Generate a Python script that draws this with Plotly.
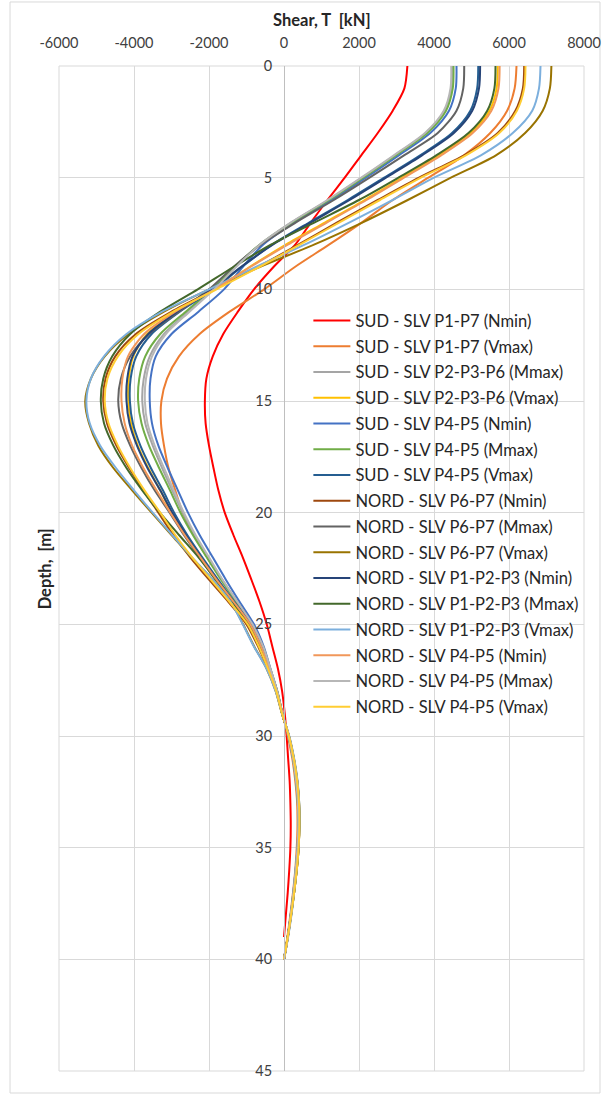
import plotly.graph_objects as go

depth = list(range(0, 41))
depth_red = list(range(0, 40))

names = [
    "SUD - SLV P1-P7 (Nmin)",
    "SUD - SLV P1-P7 (Vmax)",
    "SUD - SLV P2-P3-P6 (Mmax)",
    "SUD - SLV P2-P3-P6 (Vmax)",
    "SUD - SLV P4-P5 (Nmin)",
    "SUD - SLV P4-P5 (Mmax)",
    "SUD - SLV P4-P5 (Vmax)",
    "NORD - SLV P6-P7 (Nmin)",
    "NORD - SLV P6-P7 (Mmax)",
    "NORD - SLV P6-P7 (Vmax)",
    "NORD - SLV P1-P2-P3 (Nmin)",
    "NORD - SLV P1-P2-P3 (Mmax)",
    "NORD - SLV P1-P2-P3 (Vmax)",
    "NORD - SLV P4-P5 (Nmin)",
    "NORD - SLV P4-P5 (Mmax)",
    "NORD - SLV P4-P5 (Vmax)",
]

colors = ["#FF0000", "#ED7D31", "#A5A5A5", "#FFC000", "#4472C4", "#70AD47",
          "#255E91", "#9E480E", "#636363", "#997300", "#264478", "#43682B",
          "#7CAFDD", "#F1975A", "#B7B7B7", "#FFCD33"]

sud_p1p7_nmin = [3290, 3210, 2900, 2500, 2060, 1620, 1160, 720, 300, -280, -800, -1230, -1620, -1900, -2070, -2110, -2090, -2000, -1880, -1750, -1580, -1350, -1100, -870, -650, -460, -310, -160, -50, 20, 70, 110, 150, 170, 180, 170, 140, 100, 50, 0]
sud_p1p7_vmax = [6200, 6150, 5950, 5500, 4800, 3850, 2900, 2080, 1200, 290, -530, -1450, -2250, -2800, -3120, -3270, -3280, -3200, -3080, -2900, -2700, -2400, -2050, -1650, -1250, -850, -600, -380, -180, -40, 100, 220, 300, 350, 360, 340, 300, 240, 170, 90, 0]
sud_p2p3p6_mmax = [4480, 4460, 4280, 3780, 2950, 2080, 1180, 200, -650, -1300, -1900, -2560, -3200, -3580, -3740, -3780, -3700, -3500, -3250, -2980, -2700, -2380, -2020, -1650, -1250, -850, -560, -360, -180, -40, 120, 240, 320, 370, 380, 360, 310, 250, 180, 100, 0]
sud_p2p3p6_vmax = [5700, 5670, 5480, 4980, 4140, 3150, 2150, 1100, 50, -920, -1850, -2850, -3650, -4020, -4140, -4150, -4080, -3900, -3620, -3300, -3000, -2640, -2250, -1820, -1350, -900, -620, -400, -200, -50, 130, 260, 350, 400, 410, 390, 340, 270, 190, 100, 0]
sud_p4p5_nmin = [4600, 4580, 4400, 3900, 3060, 2180, 1270, 280, -560, -1100, -1600, -2280, -3000, -3420, -3560, -3580, -3520, -3350, -3100, -2830, -2560, -2250, -1900, -1550, -1180, -800, -540, -360, -180, -40, 120, 240, 320, 370, 380, 360, 310, 250, 180, 100, 0]
sud_p4p5_mmax = [4520, 4500, 4320, 3820, 2980, 2110, 1200, 220, -650, -1320, -1930, -2620, -3300, -3700, -3860, -3890, -3800, -3600, -3330, -3040, -2760, -2430, -2060, -1680, -1270, -860, -570, -370, -180, -40, 120, 240, 320, 370, 385, 365, 315, 255, 180, 100, 0]
sud_p4p5_vmax = [5180, 5150, 4970, 4480, 3630, 2670, 1700, 680, -320, -1130, -1880, -2780, -3530, -3940, -4090, -4110, -4030, -3830, -3550, -3230, -2930, -2580, -2180, -1760, -1320, -880, -600, -390, -190, -45, 125, 250, 335, 385, 395, 375, 325, 260, 185, 100, 0]
nord_p6p7_nmin = [6405, 6370, 6170, 5700, 4800, 3600, 2500, 1420, 380, -700, -1850, -3000, -3950, -4500, -4760, -4820, -4720, -4470, -4130, -3750, -3350, -2950, -2500, -2000, -1480, -1000, -690, -430, -210, -50, 130, 260, 350, 400, 410, 390, 340, 270, 190, 100, 0]
nord_p6p7_mmax = [4805, 4780, 4600, 4100, 3200, 2280, 1330, 320, -620, -1350, -2000, -2800, -3600, -4100, -4350, -4420, -4330, -4100, -3800, -3450, -3050, -2670, -2250, -1820, -1350, -900, -600, -390, -190, -45, 125, 250, 335, 385, 395, 375, 325, 260, 185, 100, 0]
nord_p6p7_vmax = [7130, 7090, 6900, 6430, 5650, 4450, 3300, 2100, 800, -650, -2000, -3200, -4150, -4780, -5150, -5300, -5200, -4950, -4550, -4050, -3530, -3000, -2470, -1900, -1420, -1090, -790, -460, -220, -55, 135, 265, 355, 405, 410, 385, 335, 270, 195, 105, 0]
nord_p1p2p3_nmin = [5230, 5200, 5020, 4530, 3680, 2720, 1750, 720, -300, -1150, -1920, -2850, -3620, -4040, -4180, -4200, -4120, -3920, -3640, -3300, -2980, -2620, -2220, -1790, -1340, -900, -610, -390, -190, -45, 125, 250, 335, 385, 395, 375, 325, 260, 185, 100, 0]
nord_p1p2p3_mmax = [5640, 5610, 5420, 4920, 4060, 3050, 2000, 820, -350, -1350, -2300, -3300, -4100, -4580, -4820, -4885, -4800, -4550, -4200, -3780, -3310, -2800, -2280, -1820, -1380, -960, -660, -420, -200, -50, 130, 260, 350, 400, 410, 390, 340, 270, 190, 100, 0]
nord_p1p2p3_vmax = [6840, 6800, 6620, 6100, 5250, 4000, 2900, 1750, 550, -750, -2000, -3250, -4200, -4800, -5150, -5270, -5180, -4900, -4480, -4000, -3500, -2980, -2450, -1900, -1420, -1100, -800, -460, -220, -50, 140, 270, 360, 405, 410, 385, 335, 270, 200, 110, 0]
nord_p4p5_nmin = [5750, 5720, 5530, 5030, 4190, 3200, 2200, 1150, 100, -900, -1850, -2900, -3730, -4160, -4310, -4333, -4250, -4050, -3750, -3400, -3030, -2650, -2230, -1800, -1340, -900, -610, -390, -190, -45, 125, 250, 335, 385, 395, 375, 325, 260, 185, 100, 0]
nord_p4p5_mmax = [4460, 4440, 4260, 3760, 2930, 2060, 1160, 190, -650, -1280, -1860, -2520, -3150, -3520, -3680, -3710, -3640, -3450, -3200, -2940, -2670, -2360, -2000, -1640, -1240, -840, -555, -360, -180, -40, 120, 240, 320, 370, 380, 360, 310, 250, 180, 100, 0]
nord_p4p5_vmax = [6440, 6405, 6210, 5740, 4850, 3650, 2560, 1480, 420, -660, -1800, -2950, -3880, -4430, -4710, -4780, -4680, -4430, -4100, -3720, -3300, -2900, -2450, -1950, -1450, -970, -670, -425, -205, -50, 130, 260, 350, 400, 410, 390, 340, 270, 190, 100, 0]

series = [sud_p1p7_nmin, sud_p1p7_vmax, sud_p2p3p6_mmax, sud_p2p3p6_vmax,
          sud_p4p5_nmin, sud_p4p5_mmax, sud_p4p5_vmax, nord_p6p7_nmin,
          nord_p6p7_mmax, nord_p6p7_vmax, nord_p1p2p3_nmin, nord_p1p2p3_mmax,
          nord_p1p2p3_vmax, nord_p4p5_nmin, nord_p4p5_mmax, nord_p4p5_vmax]

x_ticks = [-6000, -4000, -2000, 0, 2000, 4000, 6000, 8000]
y_ticks = [0, 5, 10, 15, 20, 25, 30, 35, 40, 45]

FONT = "Lato"
fig = go.Figure()
for i, (nm, col, vals) in enumerate(zip(names, colors, series)):
    d = depth_red if len(vals) == 40 else depth
    fig.add_trace(go.Scatter(
        x=vals, y=d, mode="lines", name=nm,
        line=dict(color=col, width=2, shape="spline", smoothing=0.8),
        legendgroup=f"g{i}",
    ))

grid = "#D9D9D9"
fig.update_layout(
    width=603, height=1097,
    margin=dict(l=59, r=19, t=66, b=26, autoexpand=False),
    paper_bgcolor="white", plot_bgcolor="white",
    font=dict(family=FONT, size=14, color="#404040"),
    showlegend=True,
    legend=dict(
        x=0.475, y=0.764, xanchor="left", yanchor="top",
        bgcolor="rgba(0,0,0,0)", font=dict(family=FONT, size=16.5, color="#262626"),
        tracegroupgap=1.3, itemwidth=37,
    ),
    xaxis=dict(
        side="top", range=[-6000, 8000], tickvals=x_ticks,
        ticktext=[str(v) for v in x_ticks], automargin=False,
        showgrid=True, gridcolor=grid, gridwidth=1, zeroline=False,
        showline=False, ticks="", ticklabelstandoff=14,
        tickfont=dict(size=14.5, color="#404040"),
    ),
    yaxis=dict(
        range=[45, 0], tickvals=y_ticks, ticktext=[str(v) for v in y_ticks],
        showgrid=True, gridcolor=grid, gridwidth=1, zeroline=False, automargin=False,
        anchor="free", position=3/7, showline=True, linecolor="#BFBFBF",
        linewidth=1, ticks="", ticklabelstandoff=9,
        tickfont=dict(size=14.5, color="#404040"),
    ),
    annotations=[
        dict(text="<b>Shear, T\u00a0 [kN]</b>", xref="paper", yref="paper",
             x=0.501, y=1.0458, showarrow=False, font=dict(size=16.5, color="#262626"),
             xanchor="center", yanchor="middle"),
        dict(text="<b>Depth,\u00a0 [m]</b>", xref="paper", yref="paper",
             x=-0.027, y=0.5, showarrow=False, textangle=-90,
             font=dict(size=16.5, color="#262626"), xanchor="center", yanchor="middle"),
    ],
    shapes=[
        dict(type="rect", xref="paper", yref="paper", x0=0, x1=1, y0=0, y1=1,
             line=dict(color=grid, width=1), fillcolor="rgba(0,0,0,0)", layer="below"),
        dict(type="rect", xref="paper", yref="paper", x0=-0.0933, x1=1.0305,
             y0=-0.0219, y1=1.0637, line=dict(color=grid, width=1),
             fillcolor="rgba(0,0,0,0)", layer="below"),
    ],
)

fig.write_html("out.html", config={"displayModeBar": False},
               post_script="document.body.style.margin='0';")
